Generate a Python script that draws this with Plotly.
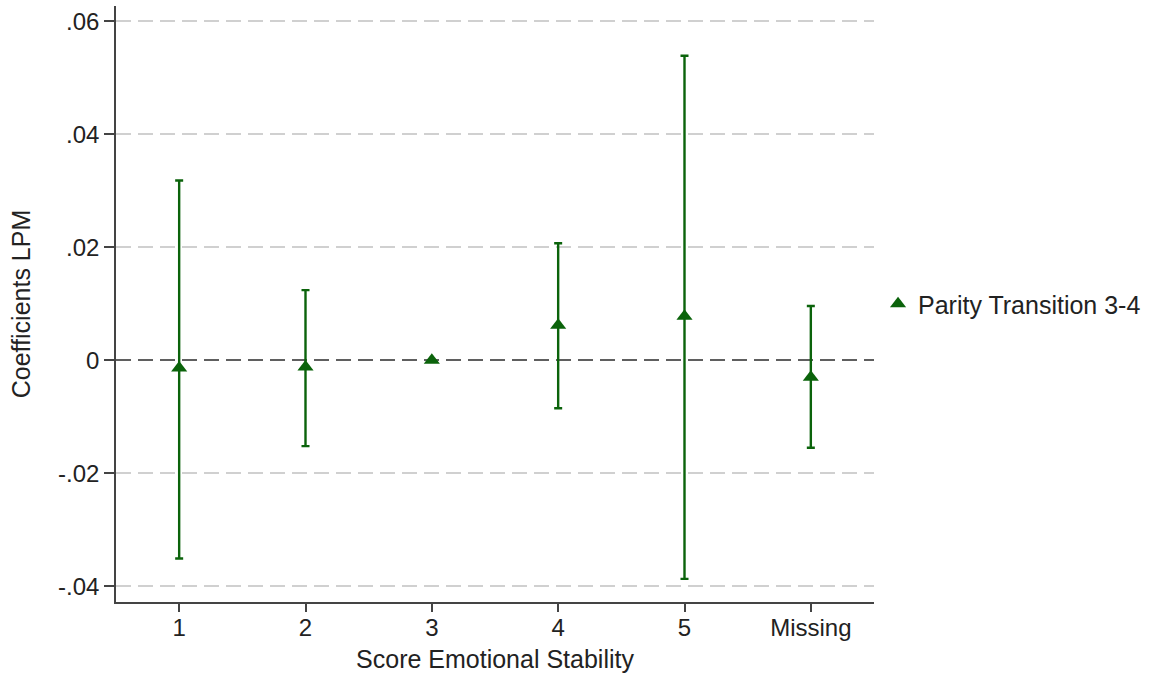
import plotly.graph_objects as go

categories = ["1", "2", "3", "4", "5", "Missing"]
coef = [-0.0014, -0.0012, 0.0, 0.0062, 0.0078, -0.0030]
ci_high = [0.0318, 0.0124, None, 0.0207, 0.0539, 0.0096]
ci_low = [-0.0351, -0.0152, None, -0.0085, -0.0387, -0.0155]
y_ticks = [-0.04, -0.02, 0, 0.02, 0.04, 0.06]
y_ticklabels = ["-.04", "-.02", "0", ".02", ".04", ".06"]
y_range = [-0.0428, 0.0627]

green = "#0b630b"
err_plus = [(h - c) if h is not None else None for h, c in zip(ci_high, coef)]
err_minus = [(c - l) if l is not None else None for l, c in zip(ci_low, coef)]

fig = go.Figure()
# empty helper traces so that the overlay grid axes are drawn
for ax in ["y2", "y3"]:
    fig.add_trace(go.Scatter(x=[], y=[], yaxis=ax, showlegend=False, hoverinfo="skip"))
fig.add_trace(go.Scatter(
    x=categories, y=coef, mode="markers", name="Parity Transition 3-4",
    marker=dict(symbol="triangle-up", size=14, color=green),
    error_y=dict(type="data", symmetric=False, array=err_plus, arrayminus=err_minus,
                 color=green, thickness=2.4, width=4),
))

font = "Liberation Sans, Arial, sans-serif"
grid_ticks = [t for t in y_ticks if t != 0]
fig.update_layout(
    width=1151, height=679,
    margin=dict(l=116, r=276, t=6, b=77),
    paper_bgcolor="white", plot_bgcolor="white",
    font=dict(family=font, color="#222222"),
    showlegend=True,
    legend=dict(x=1.004, xanchor="left", y=0.5, yanchor="middle",
                font=dict(size=25, color="#222222"), bgcolor="rgba(0,0,0,0)"),
    yaxis2=dict(overlaying="y", range=y_range, tickvals=grid_ticks, showticklabels=False,
                ticks="", showline=False, zeroline=False, showgrid=True,
                gridcolor="#d0d0d0", gridwidth=2, griddash="15px,7px"),
    yaxis3=dict(overlaying="y", range=y_range, tickvals=[0], showticklabels=False,
                ticks="", showline=False, zeroline=False, showgrid=True,
                gridcolor="#5f5f5f", gridwidth=2, griddash="15px,7px"),
)
fig.update_xaxes(
    type="category", categoryarray=categories, range=[-0.5, 5.5],
    showline=True, linecolor="#444444", linewidth=1.5,
    ticks="outside", ticklen=8, tickcolor="#444444", tickwidth=1.5,
    ticklabelstandoff=-5,
    showgrid=False, tickfont=dict(size=24),
    title=dict(text="Score Emotional Stability", font=dict(size=25), standoff=11),
)
fig.layout.yaxis.update(
    range=y_range, tickvals=y_ticks, ticktext=y_ticklabels,
    showline=True, linecolor="#444444", linewidth=1.5,
    ticks="outside", ticklen=10, tickcolor="#444444", tickwidth=1.5,
    showgrid=False, zeroline=False, tickfont=dict(size=24),
    title=dict(text="Coefficients LPM", font=dict(size=25), standoff=20),
)

fig.write_html("out.html")
